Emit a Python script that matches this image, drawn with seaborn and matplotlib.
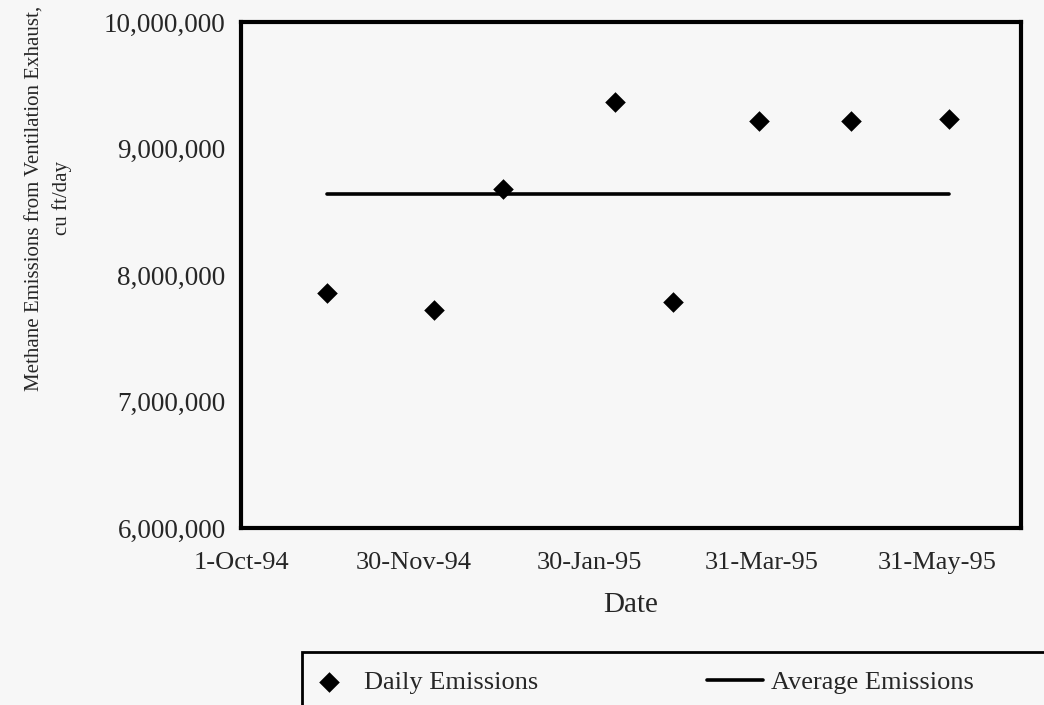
import seaborn as sns
import pandas as pd
import matplotlib.pyplot as plt
from matplotlib.patches import Rectangle

# values
dates = ['1994-10-31', '1994-12-07', '1994-12-31', '1995-02-08',
         '1995-02-28', '1995-03-30', '1995-05-01', '1995-06-04']
daily = [7860000, 7720000, 8680000, 9370000, 7790000, 9220000, 9220000, 9230000]
avg_value = 8640000
avg_dates = ['1994-10-31', '1995-06-04']

tick_dates = ['1994-10-01', '1994-11-30', '1995-01-30', '1995-03-31', '1995-05-31']
tick_labels = ['1-Oct-94', '30-Nov-94', '30-Jan-95', '31-Mar-95', '31-May-95']
y_ticks = [6000000, 7000000, 8000000, 9000000, 10000000]

df = pd.DataFrame({'Date': pd.to_datetime(dates), 'Emissions': daily})
avg = pd.DataFrame({'Date': pd.to_datetime(avg_dates), 'Emissions': [avg_value] * len(avg_dates)})

sns.set_style('white')
plt.rcParams['font.family'] = ['Liberation Serif', 'DejaVu Serif']
bg = '#f7f7f7'

fig = plt.figure(figsize=(10.44, 7.05), dpi=100, facecolor=bg)
ax = fig.add_axes([241 / 1044, 1 - 528 / 705, 780 / 1044, 506 / 705])
ax.set_facecolor(bg)

sns.scatterplot(data=df, x='Date', y='Emissions', marker='D', s=110, color='black',
                linewidth=0, ax=ax, label='Daily Emissions', legend=False)
sns.lineplot(data=avg, x='Date', y='Emissions', color='black', linewidth=2.6,
             ax=ax, label='Average Emissions', legend=False)

ax.set_xlim(pd.Timestamp('1994-10-01'), pd.Timestamp('1995-06-29'))
ax.set_ylim(6000000, 10000000)
ax.set_xticks(pd.to_datetime(tick_dates))
ax.set_xticklabels(tick_labels, fontsize=19)
ax.set_yticks(y_ticks)
ax.set_yticklabels([f'{v:,}' for v in y_ticks], fontsize=19.5)
ax.tick_params(axis='both', direction='inout', length=12, width=1, color='black')
ax.tick_params(axis='x', pad=11)
ax.tick_params(axis='y', pad=5)

for sp in ax.spines.values():
    sp.set_color('black')
    sp.set_linewidth(3)

ax.set_xlabel('Date', fontsize=21, labelpad=13)
ax.set_ylabel('Methane Emissions from Ventilation Exhaust,\ncu ft/day', fontsize=15,
              linespacing=1.5)
ax.yaxis.set_label_coords(-0.217, 0.652)

handles, labels = ax.get_legend_handles_labels()
fig.legend(handles, labels, loc='center left', bbox_to_anchor=(301 / 1044, 1 - 682 / 705),
           ncol=2, frameon=False, fontsize=19, handlelength=2.1, handletextpad=0.3,
           columnspacing=6.4, borderpad=0, borderaxespad=0)
fig.patches.append(Rectangle((302 / 1044, -0.1), 1, 0.1 + (705 - 652) / 705,
                             transform=fig.transFigure, fill=False,
                             edgecolor='black', linewidth=2))

fig.savefig('out.png', dpi=100, facecolor=bg)
